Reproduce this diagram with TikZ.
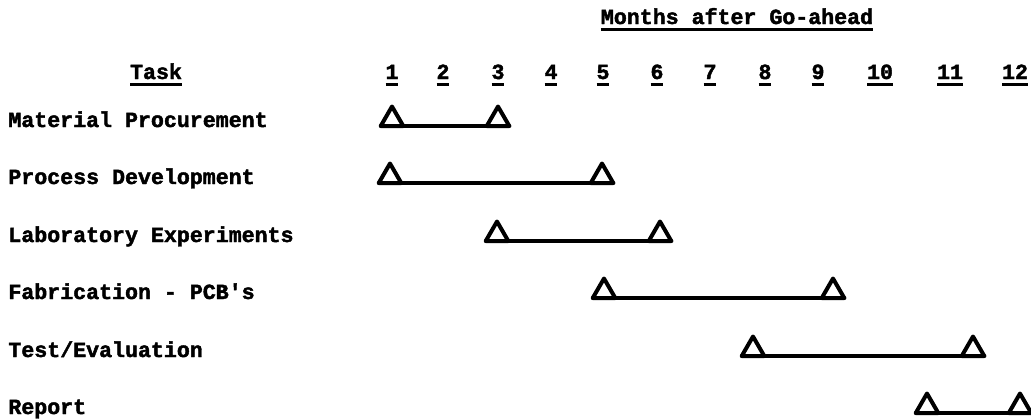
\documentclass[tikz,border=0pt]{standalone}
\usepackage{fontspec}
\setmonofont{Liberation Mono}[BoldFeatures={FakeBold=2}]
\usetikzlibrary{shapes.geometric}

% thick typewriter underline
\newcommand{\undl}[1]{\setbox0=\hbox{#1}\rlap{\vrule width \wd0 height -2pt depth 3.6pt}\box0}

\begin{document}
\begin{tikzpicture}[
    x=0.5pt, y=-0.5pt,
    every node/.style={font=\fontsize{10.8}{13}\selectfont\ttfamily\bfseries, inner sep=0pt},
    head/.style={anchor=base},
    task/.style={anchor=base west},
    tri/.style={regular polygon, regular polygon sides=3, draw, line width=2pt, line join=round,
        minimum size=13pt, inner sep=0pt, outer sep=0pt, anchor=south},
    bar/.style={line width=2pt, line cap=round}
]
\useasboundingbox (0,0) rectangle (1031,419);

% Headings
\node[head] (months) at (737,24) {\undl{Months after Go-ahead}};
\node[head] (task) at (156,79) {\undl{Task}};

% Month numbers
\node[head] (m1) at (392,79) {\undl{1}};
\node[head] (m2) at (443,79) {\undl{2}};
\node[head] (m3) at (498,79) {\undl{3}};
\node[head] (m4) at (551,79) {\undl{4}};
\node[head] (m5) at (603,79) {\undl{5}};
\node[head] (m6) at (657,79) {\undl{6}};
\node[head] (m7) at (710,79) {\undl{7}};
\node[head] (m8) at (765,79) {\undl{8}};
\node[head] (m9) at (818,79) {\undl{9}};
\node[head] (m10) at (880,79) {\undl{10}};
\node[head] (m11) at (950,79) {\undl{11}};
\node[head] (m12) at (1015,79) {\undl{12}};

% Tasks
\node[task] (t1) at (8,127) {Material Procurement};
\node[task] (t2) at (8,184) {Process Development};
\node[task] (t3) at (8,242) {Laboratory Experiments};
\node[task] (t4) at (8,299) {Fabrication - PCB's};
\node[task] (t5) at (8,357) {Test/Evaluation};
\node[task] (t6) at (8,414) {Report};

% Milestones
\node[tri] (s1) at (392,126) {};
\node[tri] (e1) at (498,126) {};
\node[tri] (s2) at (390,183) {};
\node[tri] (e2) at (602,183) {};
\node[tri] (s3) at (497,241) {};
\node[tri] (e3) at (660,241) {};
\node[tri] (s4) at (604,298) {};
\node[tri] (e4) at (833,298) {};
\node[tri] (s5) at (753,356) {};
\node[tri] (e5) at (973,356) {};
\node[tri] (s6) at (927,413) {};
\node[tri] (e6) at (1020,413) {};

% Bars
\draw[bar] (s1.corner 2) -- (e1.corner 3);
\draw[bar] (s2.corner 2) -- (e2.corner 3);
\draw[bar] (s3.corner 2) -- (e3.corner 3);
\draw[bar] (s4.corner 2) -- (e4.corner 3);
\draw[bar] (s5.corner 2) -- (e5.corner 3);
\draw[bar] (s6.corner 2) -- (e6.corner 3);

\end{tikzpicture}
\end{document}
